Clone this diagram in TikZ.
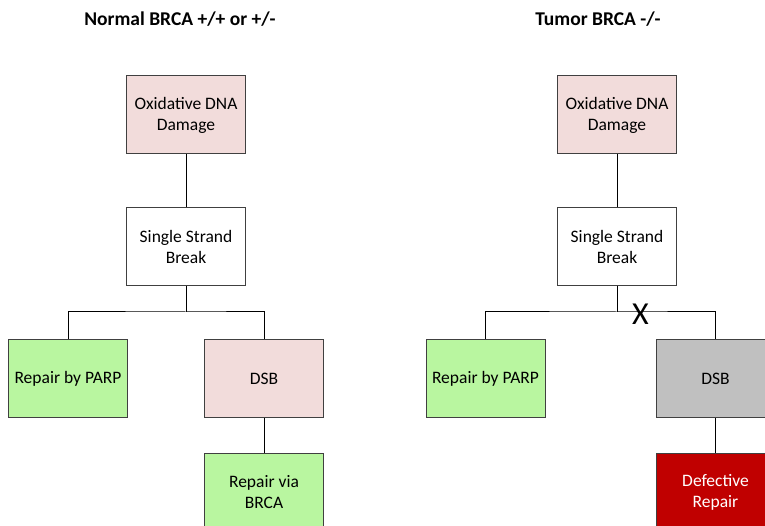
\documentclass[tikz,border=0pt]{standalone}
\usepackage{fontspec}
\setmainfont{Carlito}
\definecolor{pinkfill}{HTML}{F2DCDB}
\definecolor{greenfill}{HTML}{B9F6A0}
\definecolor{grayfill}{HTML}{C0C0C0}
\definecolor{redfill}{HTML}{C00000}
\definecolor{boxline}{HTML}{404040}
\tikzset{
  box/.style={draw=boxline, line width=1pt, minimum width=119pt, minimum height=78pt, inner sep=0pt, align=center, font=\fontsize{17.5}{21}\selectfont, text=black},
  pinkbox/.style={box, fill=pinkfill},
  whitebox/.style={box, fill=white},
  greenbox/.style={box, fill=greenfill},
  graybox/.style={box, fill=grayfill},
  redbox/.style={box, fill=redfill, text=white},
  conn/.style={draw=black, line width=1pt},
  ttl/.style={font=\bfseries\fontsize{19.5}{22}\selectfont, inner sep=0pt}
}
\begin{document}
\begin{tikzpicture}[x=1pt,y=-1pt]
\useasboundingbox (0,0) rectangle (765,526);
\clip (0,0) rectangle (765,526);
% titles
\node[ttl] (t1) at (180,19) {Normal BRCA +/+ or +/-};
\node[ttl] (t2) at (598,19) {Tumor BRCA -/-};
% left
\node[pinkbox] (ox1) at (186,115) {Oxidative DNA\\Damage};
\node[whitebox] (ss1) at (186,246.5) {Single Strand\\Break};
\node[greenbox] (parp1) at (68,378.5) {Repair by PARP};
\node[pinkbox] (dsb1) at (264,378.5) {DSB};
\node[greenbox] (brca1) at (264,492) {Repair via\\BRCA};
\coordinate (j1) at (186,312);
\draw[conn] (ox1) -- (ss1);
\draw[conn] (ss1) -- (j1);
\draw[conn] (parp1.north) |- (j1) -| (dsb1.north);
\draw[conn] (dsb1) -- (brca1);
% right
\node[pinkbox] (ox2) at (617,115) {Oxidative DNA\\Damage};
\node[whitebox] (ss2) at (617,246.5) {Single Strand\\Break};
\node[greenbox] (parp2) at (485.5,378.5) {Repair by PARP};
\node[graybox] (dsb2) at (715.5,378.5) {DSB};
\node[redbox] (def2) at (715.5,492) {Defective\\Repair};
\coordinate (j2) at (617,312);
\draw[conn] (ox2) -- (ss2);
\draw[conn] (ss2) -- (j2);
\draw[conn] (parp2.north) |- (j2) -| (dsb2.north);
\draw[conn] (dsb2) -- (def2);
\node[font=\fontsize{32}{32}\selectfont, inner sep=0pt] (x) at (640.5,314) {X};
\end{tikzpicture}
\end{document}
